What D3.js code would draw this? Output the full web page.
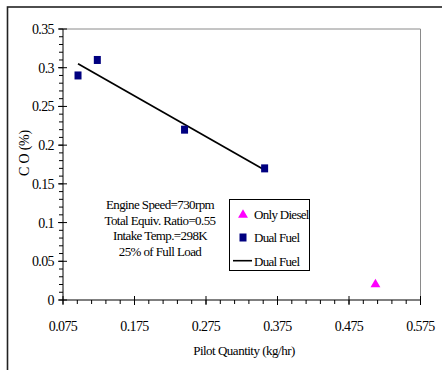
<!DOCTYPE html>
<html>
<head>
<meta charset="utf-8">
<script src="https://cdn.jsdelivr.net/npm/d3@7"></script>
<style>
  html, body { margin: 0; padding: 0; background: #fff; }
  svg { display: block; }
</style>
</head>
<body>
<svg id="chart" width="442" height="370" font-family="'Liberation Serif', 'Times New Roman', Times, 'DejaVu Serif', serif"></svg>
<script>
// CO emissions vs pilot quantity
const dualFuelX = [0.096, 0.123, 0.245, 0.357];
const dualFuelY = [0.29, 0.31, 0.22, 0.17];
const dieselX = [0.512];
const dieselY = [0.02];
// fitted trend line for dual fuel
const trendX = [0.096, 0.357];
const trendY = [0.305, 0.168];

const xTicks = [0.075, 0.175, 0.275, 0.375, 0.475, 0.575];
const yTicks = [0, 0.05, 0.1, 0.15, 0.2, 0.25, 0.3, 0.35];
const notes = ["Engine Speed=730rpm", "Total Equiv. Ratio=0.55", "Intake Temp.=298K", "25% of Full Load"];
const legendLabels = ["Only Diesel", "Dual Fuel", "Dual Fuel"];

const svg = d3.select("#chart");
const L = 63, R = 420.5, T = 29, B = 300;

const x = d3.scaleLinear().domain([0.075, 0.575]).range([L, R]);
const y = d3.scaleLinear().domain([0, 0.35]).range([B, T]);

// outer frame
svg.append("rect").attr("x", 7.5).attr("y", 7).attr("width", 600).attr("height", 600)
  .attr("fill", "none").attr("stroke", "#222").attr("stroke-width", 1.6);

// plot-area border (top & right)
svg.append("path")
  .attr("d", `M${L},${T}H${R}V${B}`)
  .attr("fill", "none").attr("stroke", "#8a8a8a").attr("stroke-width", 1);

// minor ticks
const xMinor = d3.range(0, 26).map(i => 0.075 + i * 0.02);
const yMinor = d3.range(0, 36).map(i => i * 0.01);

const gx = svg.append("g");
gx.selectAll("line.minor").data(xMinor).join("line")
  .attr("x1", d => x(d)).attr("x2", d => x(d))
  .attr("y1", B).attr("y2", B + 4).attr("stroke", "#000");
gx.selectAll("line.major").data(xTicks).join("line")
  .attr("x1", d => x(d)).attr("x2", d => x(d))
  .attr("y1", B - 4).attr("y2", B + 5).attr("stroke", "#000");
gx.append("line").attr("x1", L).attr("x2", R).attr("y1", B).attr("y2", B).attr("stroke", "#000");
gx.selectAll("text").data(xTicks).join("text")
  .attr("x", d => x(d)).attr("y", 331)
  .attr("text-anchor", "middle").attr("font-size", 14).attr("letter-spacing", -0.6)
  .text(d => d3.format(".3f")(d));

const gy = svg.append("g");
gy.selectAll("line.minor").data(yMinor).join("line")
  .attr("x1", L - 4).attr("x2", L)
  .attr("y1", d => y(d)).attr("y2", d => y(d)).attr("stroke", "#000");
gy.selectAll("line.major").data(yTicks).join("line")
  .attr("x1", L - 5).attr("x2", L + 4)
  .attr("y1", d => y(d)).attr("y2", d => y(d)).attr("stroke", "#000");
gy.append("line").attr("x1", L).attr("x2", L).attr("y1", T).attr("y2", B).attr("stroke", "#000");
gy.selectAll("text").data(yTicks).join("text")
  .attr("x", 54).attr("y", d => y(d) + 5)
  .attr("text-anchor", "end").attr("font-size", 14).attr("letter-spacing", -0.6)
  .text(d => d === 0 ? "0" : String(d));

// axis titles
svg.append("text").attr("transform", "translate(29,153) rotate(-90)")
  .attr("text-anchor", "middle").attr("font-size", 14).attr("letter-spacing", -0.2)
  .text("C O  (%)");
svg.append("text").attr("x", 244).attr("y", 355)
  .attr("text-anchor", "middle").attr("font-size", 13).attr("letter-spacing", -0.5)
  .text("Pilot Quantity (kg/hr)");

// trend line
const line = d3.line().x(d => x(d[0])).y(d => y(d[1]));
svg.append("path").datum(d3.zip(trendX, trendY))
  .attr("d", line).attr("fill", "none").attr("stroke", "#000").attr("stroke-width", 1.7);

// dual fuel squares
svg.selectAll("rect.df").data(d3.zip(dualFuelX, dualFuelY)).join("rect")
  .attr("x", d => x(d[0]) - 3.5).attr("y", d => y(d[1]) - 4)
  .attr("width", 7).attr("height", 8).attr("fill", "#000080");

// diesel triangle
const tri = d3.symbol().type(d3.symbolTriangle).size(42);
svg.selectAll("path.dz").data(d3.zip(dieselX, dieselY)).join("path")
  .attr("transform", d => `translate(${x(d[0])},${y(d[1])})`)
  .attr("d", tri).attr("fill", "#ff00ff");

// notes
svg.selectAll("text.note").data(notes).join("text")
  .attr("x", 160).attr("y", (d, i) => 209 + i * 15.7)
  .attr("text-anchor", "middle").attr("font-size", 13).attr("letter-spacing", -0.6)
  .text(d => d);

// legend
const lg = svg.append("g");
lg.append("rect").attr("x", 229.5).attr("y", 199.5).attr("width", 80).attr("height", 71)
  .attr("fill", "#fff").attr("stroke", "#000").attr("stroke-width", 1);
lg.append("path").attr("transform", "translate(243,215)").attr("d", tri).attr("fill", "#ff00ff");
lg.append("rect").attr("x", 239.5).attr("y", 233.5).attr("width", 7).attr("height", 8).attr("fill", "#000080");
lg.append("line").attr("x1", 233).attr("x2", 252).attr("y1", 260.7).attr("y2", 260.7)
  .attr("stroke", "#000").attr("stroke-width", 1.6);
lg.selectAll("text").data(legendLabels).join("text")
  .attr("x", 254).attr("y", (d, i) => 219 + i * 23.3)
  .attr("font-size", 13).attr("letter-spacing", -0.7)
  .text(d => d);
</script>
</body>
</html>
